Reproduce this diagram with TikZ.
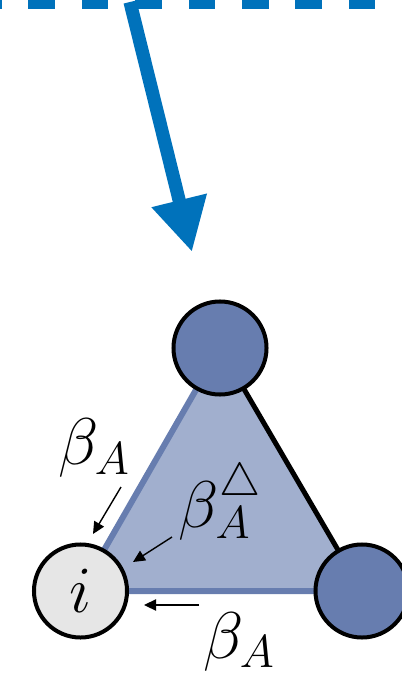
\RequirePackage{fix-cm}
\documentclass[tikz,border=0pt]{standalone}
\usetikzlibrary{arrows.meta, calc, backgrounds}
\definecolor{flowblue}{RGB}{0, 114, 187}
\definecolor{nodeblue}{RGB}{103, 125, 175}
\definecolor{faceblue}{RGB}{161, 175, 206}
\definecolor{focusgray}{RGB}{230, 230, 230}

\begin{document}
\begin{tikzpicture}[
  x=0.025cm, y=-0.025cm,
  vert/.style={circle, draw=black, line width=0.1cm, fill=nodeblue,
               minimum size=2.325cm, inner sep=0pt, font=\fontsize{47}{56}\selectfont},
  focus/.style={vert, fill=focusgray},
  lbl/.style={inner sep=0pt, font=\fontsize{47}{56}\selectfont},
  pin/.style={-{Triangle[length=0.3cm, width=0.28cm]}, line width=0.035cm, black},
  flow/.style={-{Triangle[length=1.33cm, width=1.33cm]}, line width=0.33cm, flowblue}
]
  \useasboundingbox (0,0) rectangle (401,675);
  % boundary and incoming flow
  \draw[flowblue, line width=0.25cm, dash pattern=on 0.667cm off 0.667cm] (-25,4.5) -- (430,4.5);
  \coordinate (src) at (130,2);
  \coordinate (dst) at (192,252);
  \draw[flow] (src) -- (dst);

  % the triangle
  \node[vert] (top) at (220,348) {};
  \node[focus] (i) at (80.5,591) {$i$};
  \node[vert] (right) at (362,591) {};
  \begin{scope}[on background layer]
    \fill[faceblue] (i.center) -- (top.center) -- (right.center) -- cycle;
    \draw[nodeblue, line width=0.15cm] (top.center) -- (i.center) -- (right.center);
    \draw[black, line width=0.125cm] (top.center) -- (right.center);
  \end{scope}

  % rates
  \node[lbl] (edgeA) at (94,448) {$\beta_A$};
  \node[lbl] (triA) at (220,502) {$\beta_A^\triangle$};
  \node[lbl] (edgeB) at (239,641.5) {$\beta_A$};
  \draw[pin] ($(edgeA)+(27,39)$) -- ($(i)+(12.5,-57)$);
  \draw[pin] ($(triA)+(-48,35)$) -- ($(i)+(52.5,-29)$);
  \draw[pin] ($(edgeB)+(-40,-36.5)$) -- ($(i)+(63.5,14)$);
\end{tikzpicture}
\end{document}
